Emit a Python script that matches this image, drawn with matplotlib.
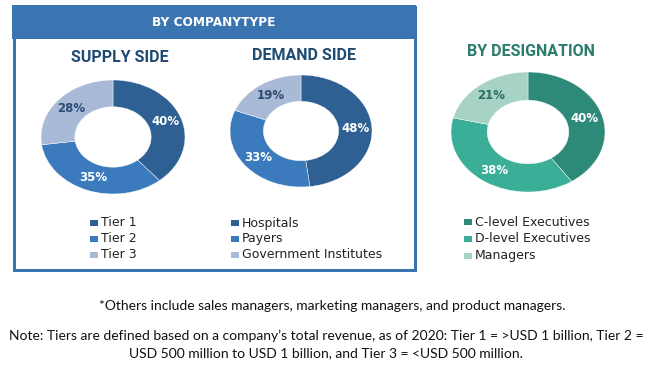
import matplotlib
matplotlib.use("Agg")
import matplotlib.pyplot as plt
from matplotlib.patches import Rectangle
import numpy as np

W, H = 650, 367

# ---- data ----
supply_labels = ["Tier 1", "Tier 2", "Tier 3"]
supply_values = [40, 35, 28]
demand_labels = ["Hospitals", "Payers", "Government Institutes"]
demand_values = [48, 33, 19]
desig_labels = ["C-level Executives", "D-level Executives", "Managers"]
desig_values = [40, 38, 21]

blue_colors = ["#2e6094", "#3b7bbd", "#a8bad6"]
teal_colors = ["#2e8a78", "#3aae96", "#a7d3c6"]
blue_pct_colors = ["white", "white", "#2b4b73"]
teal_pct_colors = ["white", "white", "#2a6e60"]

fig = plt.figure(figsize=(W / 100, H / 100), dpi=100)
fig.patch.set_facecolor("white")


def fx(x):
    return x / W


def fy(y):
    return 1 - y / H


# ---- frame ----
frame_col = "#3a75b2"
fig.add_artist(Rectangle((fx(12), fy(39)), fx(416) - fx(12), fy(5) - fy(39),
                         transform=fig.transFigure, facecolor=frame_col,
                         edgecolor="none", zorder=0))
fig.add_artist(Rectangle((fx(13.5), fy(269.5)), fx(414.5) - fx(13.5), fy(6.5) - fy(269.5),
                         transform=fig.transFigure, facecolor="none",
                         edgecolor=frame_col, linewidth=2.2, zorder=1))

fig.text(fx(214), fy(23), "BY COMPANYTYPE", color="white", fontsize=8.7,
         fontweight="bold", ha="center", va="center", family="DejaVu Sans")
title_kw = dict(fontsize=11.5, fontweight="bold", ha="center", va="center", family="Roboto")
fig.text(fx(120), fy(57), "SUPPLY SIDE", color="#1f4a72", **title_kw)
fig.text(fx(304), fy(55), "DEMAND SIDE", color="#1f4a72", **title_kw)
fig.text(fx(531), fy(52), "BY DESIGNATION", color="#2a7c6c", **title_kw)


def donut(box, values, colors, pct_colors):
    x0, y0, x1, y1 = box
    ax = fig.add_axes([fx(x0), fy(y1), fx(x1) - fx(x0), fy(y0) - fy(y1)])
    wedges, _ = ax.pie(values, colors=colors, startangle=90, counterclock=False,
                       wedgeprops=dict(width=0.47, edgecolor="white", linewidth=0.3))
    ax.set_aspect("auto")
    ax.set_xlim(-1, 1)
    ax.set_ylim(-1, 1)
    ax.axis("off")
    for w, v, c in zip(wedges, values, pct_colors):
        th = np.deg2rad((w.theta1 + w.theta2) / 2)
        r = 0.77
        ax.text(r * np.cos(th), r * np.sin(th), f"{v}%", color=c, fontsize=8.5,
                fontweight="bold", ha="center", va="center", family="DejaVu Sans")
    return ax


donut((41, 80, 185, 194), supply_values, blue_colors, blue_pct_colors)
donut((230, 75, 372, 187), demand_values, blue_colors, blue_pct_colors)
donut((451, 72, 605, 192), desig_values, teal_colors, teal_pct_colors)


def legend(x_marker, ys, labels, colors):
    for y, lab, col in zip(ys, labels, colors):
        fig.add_artist(Rectangle((fx(x_marker), fy(y + 3)), fx(8) - fx(0), fy(0) - fy(6),
                                 transform=fig.transFigure, facecolor=col, edgecolor="none"))
        fig.text(fx(x_marker + 11), fy(y), lab, color="#222222", fontsize=9,
                 ha="left", va="center", family="DejaVu Sans")


legend(90, [223, 239, 255], supply_labels, blue_colors)
legend(231, [223, 239, 255], demand_labels, blue_colors)
legend(464, [222, 239, 256], desig_labels, teal_colors)

# ---- footnotes ----
fig.text(fx(332), fy(306), "*Others include sales managers, marketing managers, and product managers.",
         fontsize=10, ha="center", va="center", family="Lato", color="#111111")
fig.text(fx(326), fy(336), "Note: Tiers are defined based on a company\u2019s total revenue, as of 2020: Tier 1 = >USD 1 billion, Tier 2 =",
         fontsize=10, ha="center", va="center", family="Lato", color="#111111")
fig.text(fx(326), fy(353), "USD 500 million to USD 1 billion, and Tier 3 = <USD 500 million.",
         fontsize=10, ha="center", va="center", family="Lato", color="#111111")

fig.savefig("out.png", dpi=100, facecolor="white")
